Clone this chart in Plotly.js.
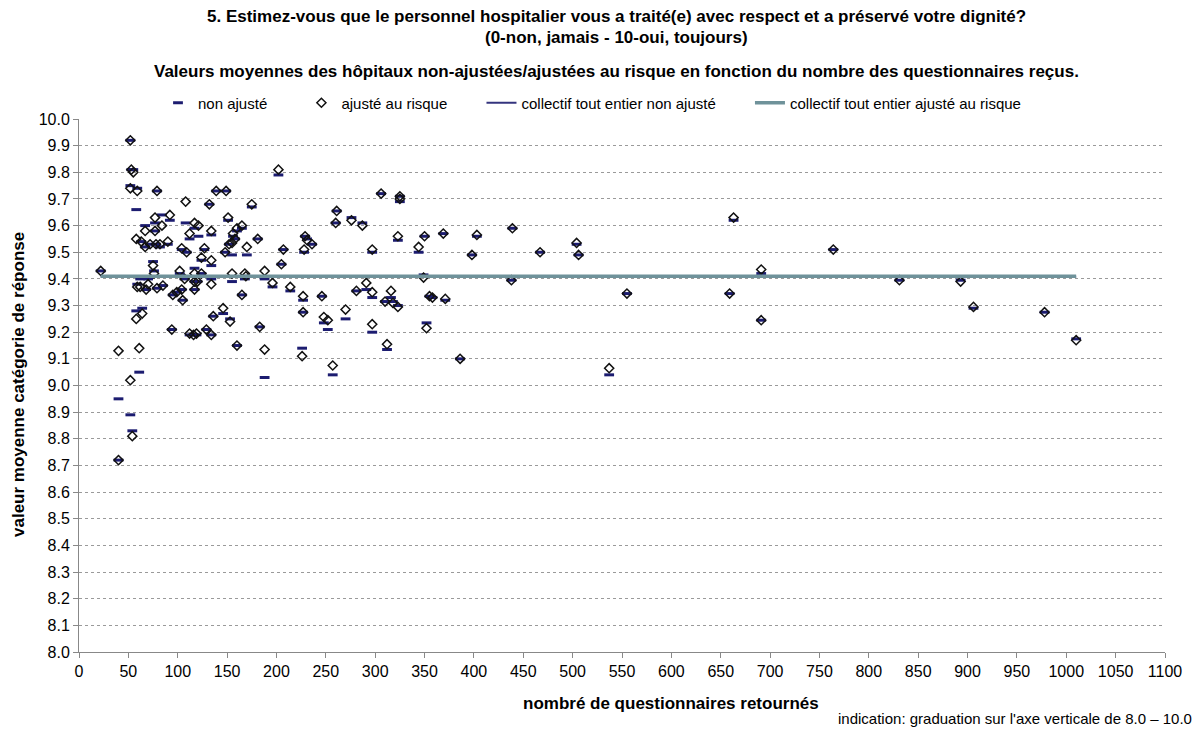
<!DOCTYPE html>
<html>
<head>
<meta charset="utf-8">
<script src="https://cdn.plot.ly/plotly-3.0.1.min.js"></script>
<style>html,body{margin:0;padding:0;background:#fff;}#chart{width:1203px;height:729px;}</style>
</head>
<body>
<div id="chart"></div>
<script>
// Number of questionnaires returned per hospital
const returned = [22,40,40,52,54,61,52,53,55,52,59,79,58,108,84,92,77,67,77,90,63,67,72,78,82,117,121,112,104,109,127,124,134,134,139,149,151,132,148,155,156,160,165,152,158,170,175,181,155,75,76,62,70,102,107,117,117,124,134,168,169,59,68,79,85,58,64,95,99,104,105,94,112,116,119,129,134,146,136,153,160,165,183,117,120,202,188,196,207,205,214,228,229,231,236,227,246,261,260,276,287,306,325,325,297,323,344,350,349,291,281,297,316,310,318,323,355,227,248,252,270,297,312,352,188,226,257,369,403,439,398,467,504,506,438,358,371,386,537,555,663,764,691,659,691,831,893,906,978,1010];
// Mean value, not adjusted
const nonAdjusted = [9.43,8.95,8.72,8.89,8.83,9.05,9.92,9.81,9.81,9.75,9.74,9.73,9.66,9.61,9.64,9.62,9.61,9.60,9.58,9.53,9.54,9.52,9.53,9.53,9.52,9.59,9.56,9.55,9.51,9.50,9.51,9.47,9.45,9.565,9.73,9.73,9.62,9.68,9.50,9.49,9.56,9.58,9.59,9.53,9.55,9.49,9.67,9.55,9.39,9.465,9.43,9.40,9.40,9.42,9.40,9.39,9.44,9.42,9.40,9.40,9.41,9.38,9.36,9.365,9.375,9.28,9.29,9.34,9.35,9.36,9.32,9.21,9.19,9.19,9.19,9.21,9.19,9.27,9.26,9.25,9.15,9.34,9.22,9.36,9.39,9.79,9.40,9.37,9.51,9.455,9.355,9.50,9.56,9.55,9.53,9.32,9.335,9.655,9.61,9.63,9.61,9.72,9.71,9.69,9.50,9.545,9.50,9.56,9.415,9.36,9.355,9.33,9.33,9.315,9.315,9.30,9.335,9.275,9.235,9.21,9.25,9.20,9.135,9.235,9.03,9.14,9.04,9.57,9.56,9.59,9.49,9.50,9.53,9.49,9.395,9.33,9.32,9.10,9.04,9.345,9.62,9.51,9.42,9.345,9.245,9.395,9.395,9.29,9.275,9.175];
// Mean value, risk adjusted
const riskAdjusted = [9.43,9.13,8.72,9.02,8.81,9.14,9.92,9.81,9.80,9.74,9.73,9.73,9.55,9.69,9.60,9.64,9.63,9.58,9.58,9.54,9.54,9.52,9.53,9.53,9.53,9.61,9.60,9.57,9.515,9.50,9.515,9.48,9.47,9.58,9.73,9.73,9.63,9.68,9.50,9.535,9.57,9.59,9.60,9.53,9.55,9.52,9.68,9.55,9.42,9.45,9.42,9.37,9.38,9.43,9.40,9.39,9.42,9.42,9.38,9.42,9.41,9.37,9.36,9.365,9.375,9.25,9.27,9.34,9.35,9.36,9.32,9.21,9.195,9.19,9.195,9.21,9.19,9.29,9.26,9.24,9.15,9.34,9.22,9.36,9.39,9.81,9.43,9.385,9.51,9.455,9.37,9.51,9.56,9.545,9.53,9.335,9.335,9.655,9.61,9.62,9.60,9.72,9.71,9.70,9.51,9.56,9.52,9.56,9.405,9.385,9.355,9.35,9.355,9.315,9.31,9.295,9.335,9.275,9.257,9.245,9.285,9.23,9.155,9.215,9.135,9.11,9.075,9.57,9.565,9.59,9.49,9.50,9.535,9.49,9.395,9.33,9.325,9.10,9.065,9.345,9.63,9.51,9.435,9.345,9.245,9.395,9.39,9.295,9.275,9.17];
// Whole collective means
const overallNonAdjusted = 9.408;
const overallAdjusted = 9.41;
const xTicks = [0,50,100,150,200,250,300,350,400,450,500,550,600,650,700,750,800,850,900,950,1000,1050,1100];
const yTicks = [8.0,8.1,8.2,8.3,8.4,8.5,8.6,8.7,8.8,8.9,9.0,9.1,9.2,9.3,9.4,9.5,9.6,9.7,9.8,9.9,10.0];

const minN = Math.min(...returned), maxN = Math.max(...returned);
const font = 'Liberation Sans, Arial, sans-serif';
const pad = '\u00a0'.repeat(7);

const L = 79, T = 119, W = 1086, H = 533;
const px = v => (v - L) / W;           // pixel x -> paper x
const py = v => (T + H - v) / H;       // pixel y -> paper y

const traces = [
  {type:'scatter', mode:'markers', name:'non ajusté' + pad, x:returned, y:nonAdjusted,
   marker:{symbol:'line-ew', size:7, color:'#1c1c70', line:{color:'#1c1c70', width:3}}},
  {type:'scatter', mode:'markers', name:'ajusté au risque' + pad, x:returned, y:riskAdjusted,
   marker:{symbol:'diamond-open', size:7, color:'#111', line:{color:'#111', width:1.5}}},
  {type:'scatter', mode:'lines', name:'collectif tout entier non ajusté' + pad, x:[minN,maxN], y:[overallNonAdjusted,overallNonAdjusted],
   line:{color:'#34347e', width:2}},
  {type:'scatter', mode:'lines', name:'collectif tout entier ajusté au risque', x:[minN,maxN], y:[overallAdjusted,overallAdjusted],
   line:{color:'#6f929a', width:3.5}}
];

const layout = {
  width:1203, height:729,
  margin:{l:L, r:1203-L-W, t:T, b:729-T-H},
  paper_bgcolor:'#fff', plot_bgcolor:'#fff',
  font:{family:font, size:15, color:'#000'},
  showlegend:true,
  legend:{orientation:'h', x:px(158), xanchor:'left', y:py(103), yanchor:'middle',
          font:{family:font, size:15, color:'#000'}, bgcolor:'rgba(0,0,0,0)', itemwidth:30},
  xaxis:{range:[0,1100], tickvals:xTicks, ticktext:xTicks.map(String), showgrid:false, zeroline:false,
         showline:true, linecolor:'#888', linewidth:1, ticks:'outside', ticklen:5, tickcolor:'#888',
         tickfont:{family:font, size:16, color:'#000'}},
  yaxis:{range:[8.0,10.0], tickvals:yTicks, ticktext:yTicks.map(v=>v.toFixed(1)), showgrid:true,
         gridcolor:'#9a9a9a', griddash:'dot', gridwidth:1, zeroline:false,
         showline:true, linecolor:'#888', linewidth:1, ticks:'outside', ticklen:5, tickcolor:'#888',
         tickfont:{family:font, size:16, color:'#000'}},
  annotations:[
    {text:'<b>5. Estimez-vous que le personnel hospitalier vous a traité(e) avec respect et a préservé votre dignité?</b>',
     xref:'paper', yref:'paper', x:px(616), y:py(16), xanchor:'center', yanchor:'middle', showarrow:false,
     font:{family:font, size:17, color:'#000'}},
    {text:'<b>(0-non, jamais - 10-oui, toujours)</b>',
     xref:'paper', yref:'paper', x:px(616), y:py(37), xanchor:'center', yanchor:'middle', showarrow:false,
     font:{family:font, size:17, color:'#000'}},
    {text:'<b>Valeurs moyennes des hôpitaux non-ajustées/ajustées au risque en fonction du nombre des questionnaires reçus.</b>',
     xref:'paper', yref:'paper', x:px(616), y:py(72), xanchor:'center', yanchor:'middle', showarrow:false,
     font:{family:font, size:17, color:'#000'}},
    {text:'<b>valeur moyenne catégorie de réponse</b>', textangle:-90,
     xref:'paper', yref:'paper', x:px(18), y:py(385), xanchor:'center', yanchor:'middle', showarrow:false,
     font:{family:font, size:17, color:'#000'}},
    {text:'<b>nombré de questionnaires retournés</b>',
     xref:'paper', yref:'paper', x:px(671), y:py(703), xanchor:'center', yanchor:'middle', showarrow:false,
     font:{family:font, size:17, color:'#000'}},
    {text:"indication: graduation sur l'axe verticale de 8.0 – 10.0",
     xref:'paper', yref:'paper', x:px(1194), y:py(718), xanchor:'right', yanchor:'middle', showarrow:false,
     font:{family:font, size:15, color:'#000'}}
  ]
};

Plotly.newPlot('chart', traces, layout, {displayModeBar:false, staticPlot:true});
</script>
</body>
</html>
